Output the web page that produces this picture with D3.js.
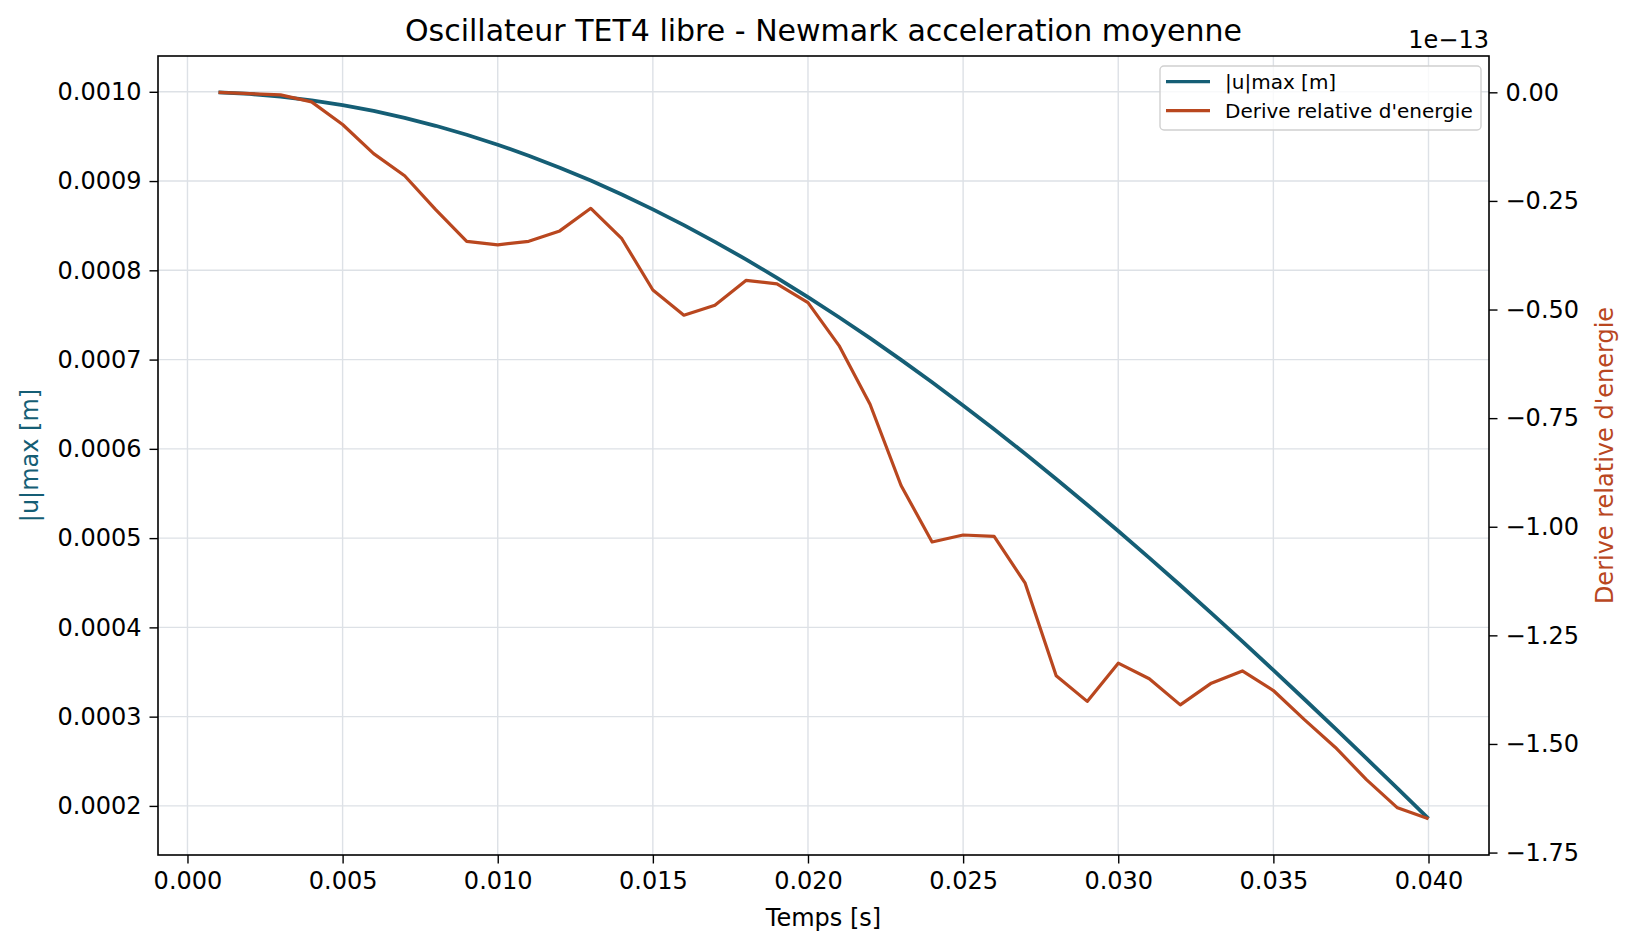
<!DOCTYPE html>
<html>
<head>
<meta charset="utf-8">
<script src="https://cdn.jsdelivr.net/npm/d3@7"></script>
<style>
  html, body { margin: 0; padding: 0; background: #fff; }
  svg text { font-family: "DejaVu Sans", sans-serif; fill: #000; }
</style>
</head>
<body>
<svg id="chart" width="1636" height="949"></svg>
<script>
// time steps [s]
const times = [0.001, 0.002, 0.003, 0.004, 0.005, 0.006, 0.007, 0.008, 0.009, 0.010,
  0.011, 0.012, 0.013, 0.014, 0.015, 0.016, 0.017, 0.018, 0.019, 0.020,
  0.021, 0.022, 0.023, 0.024, 0.025, 0.026, 0.027, 0.028, 0.029, 0.030,
  0.031, 0.032, 0.033, 0.034, 0.035, 0.036, 0.037, 0.038, 0.039, 0.040];

// |u|max [m]
const uMax = [0.0009994, 0.0009976, 0.0009946, 0.0009904, 0.0009851, 0.0009785, 0.0009708, 0.0009619, 0.0009519, 0.0009407,
  0.0009284, 0.0009150, 0.0009005, 0.0008850, 0.0008683, 0.0008506, 0.0008319, 0.0008123, 0.0007916, 0.0007700,
  0.0007474, 0.0007240, 0.0006997, 0.0006746, 0.0006486, 0.0006219, 0.0005945, 0.0005663, 0.0005374, 0.0005079,
  0.0004778, 0.0004472, 0.0004160, 0.0003843, 0.0003521, 0.0003195, 0.0002865, 0.0002532, 0.0002196, 0.0001857];

// relative energy drift, in units of 1e-13
const drift = [0.000, -0.003, -0.006, -0.022, -0.074, -0.141, -0.192, -0.270, -0.343, -0.351,
  -0.343, -0.319, -0.267, -0.337, -0.455, -0.513, -0.490, -0.433, -0.441, -0.484,
  -0.583, -0.718, -0.905, -1.035, -1.019, -1.022, -1.130, -1.343, -1.402, -1.314,
  -1.350, -1.410, -1.360, -1.332, -1.377, -1.444, -1.508, -1.582, -1.647, -1.672];

const xTicks = [0.000, 0.005, 0.010, 0.015, 0.020, 0.025, 0.030, 0.035, 0.040];
const yLeftTicks = [0.0002, 0.0003, 0.0004, 0.0005, 0.0006, 0.0007, 0.0008, 0.0009, 0.0010];
const yRightTicks = [0, -0.25, -0.5, -0.75, -1.0, -1.25, -1.5, -1.75];

const title = "Oscillateur TET4 libre - Newmark acceleration moyenne";
const xLabel = "Temps [s]";
const leftLabel = "|u|max [m]";
const rightLabel = "Derive relative d'energie";
const offsetLabel = "1e\u221213";

const blue = "#155e75", orange = "#b9471f", gridColor = "#dde1e6";

const margin = { top: 56, right: 147, bottom: 94, left: 158 };
const W = 1636, H = 949;
const L = margin.left, R = W - margin.right, T = margin.top, B = H - margin.bottom;

// matplotlib style 5% padding
function padded(vals) {
  const lo = d3.min(vals), hi = d3.max(vals), p = (hi - lo) * 0.05;
  return [lo - p, hi + p];
}

const x = d3.scaleLinear().domain(padded(times)).range([L, R]);
const yL = d3.scaleLinear().domain(padded(uMax)).range([B, T]);
const yR = d3.scaleLinear().domain(padded(drift)).range([B, T]);

const svg = d3.select("#chart");
const minus = s => s.replace("-", "\u2212");

// grid
svg.append("g").selectAll("line").data(xTicks).join("line")
  .attr("x1", d => x(d)).attr("x2", d => x(d)).attr("y1", T).attr("y2", B)
  .attr("stroke", gridColor).attr("stroke-width", 1.4);
svg.append("g").selectAll("line").data(yLeftTicks).join("line")
  .attr("x1", L).attr("x2", R).attr("y1", d => yL(d)).attr("y2", d => yL(d))
  .attr("stroke", gridColor).attr("stroke-width", 1.4);

// lines
const pts = times.map((t, i) => ({ t, u: uMax[i], e: drift[i] }));
svg.append("path").datum(pts)
  .attr("d", d3.line().x(d => x(d.t)).y(d => yL(d.u)))
  .attr("fill", "none").attr("stroke", blue).attr("stroke-width", 3.8)
  .attr("stroke-linejoin", "round");
svg.append("path").datum(pts)
  .attr("d", d3.line().x(d => x(d.t)).y(d => yR(d.e)))
  .attr("fill", "none").attr("stroke", orange).attr("stroke-width", 3.2)
  .attr("stroke-linejoin", "round");

// axes
const fs = 24;
const bottomAxis = d3.axisBottom(x).tickValues(xTicks).tickFormat(d3.format(".3f"))
  .tickSize(8.5).tickPadding(8);
const leftAxis = d3.axisLeft(yL).tickValues(yLeftTicks).tickFormat(d3.format(".4f"))
  .tickSize(8.5).tickPadding(8);
const rightAxis = d3.axisRight(yR).tickValues(yRightTicks).tickFormat(d => minus(d3.format(".2f")(d)))
  .tickSize(8.5).tickPadding(8);

function styleAxis(g) {
  g.select(".domain").remove();
  g.selectAll(".tick line").attr("stroke", "#000").attr("stroke-width", 1.4);
  g.selectAll(".tick text").attr("font-size", fs).attr("fill", "#000")
    .attr("font-family", "DejaVu Sans");
}
svg.append("g").attr("transform", `translate(0,${B})`).call(bottomAxis).call(styleAxis);
svg.append("g").attr("transform", `translate(${L},0)`).call(leftAxis).call(styleAxis);
svg.append("g").attr("transform", `translate(${R},0)`).call(rightAxis).call(styleAxis);

// frame
svg.append("rect").attr("x", L).attr("y", T).attr("width", R - L).attr("height", B - T)
  .attr("fill", "none").attr("stroke", "#000").attr("stroke-width", 1.6);

// texts
svg.append("text").attr("x", (L + R) / 2).attr("y", 40.5).attr("text-anchor", "middle")
  .attr("font-size", 30).text(title);
svg.append("text").attr("x", (L + R) / 2).attr("y", 926).attr("text-anchor", "middle")
  .attr("font-size", fs).text(xLabel);
svg.append("text").attr("transform", `translate(38,${(T + B) / 2}) rotate(-90)`)
  .attr("text-anchor", "middle").attr("font-size", fs).style("fill", blue).text(leftLabel);
svg.append("text").attr("transform", `translate(1613,${(T + B) / 2}) rotate(-90)`)
  .attr("text-anchor", "middle").attr("font-size", fs).style("fill", orange).text(rightLabel);
svg.append("text").attr("x", R).attr("y", 48).attr("text-anchor", "end")
  .attr("font-size", fs).text(offsetLabel);

// legend
const legend = svg.append("g").attr("transform", "translate(1160,66)");
legend.append("rect").attr("width", 321).attr("height", 64).attr("rx", 4)
  .attr("fill", "#fff").attr("fill-opacity", 0.8).attr("stroke", "#d0d0d0").attr("stroke-width", 1.4);
const items = [{ label: leftLabel, color: blue }, { label: rightLabel, color: orange }];
const rows = legend.selectAll("g").data(items).join("g")
  .attr("transform", (d, i) => `translate(0,${15.7 + i * 29})`);
rows.append("line").attr("x1", 6).attr("x2", 50).attr("stroke", d => d.color).attr("stroke-width", 3.2);
rows.append("text").attr("x", 65).attr("y", 7).attr("font-size", 20).text(d => d.label);
</script>
</body>
</html>
